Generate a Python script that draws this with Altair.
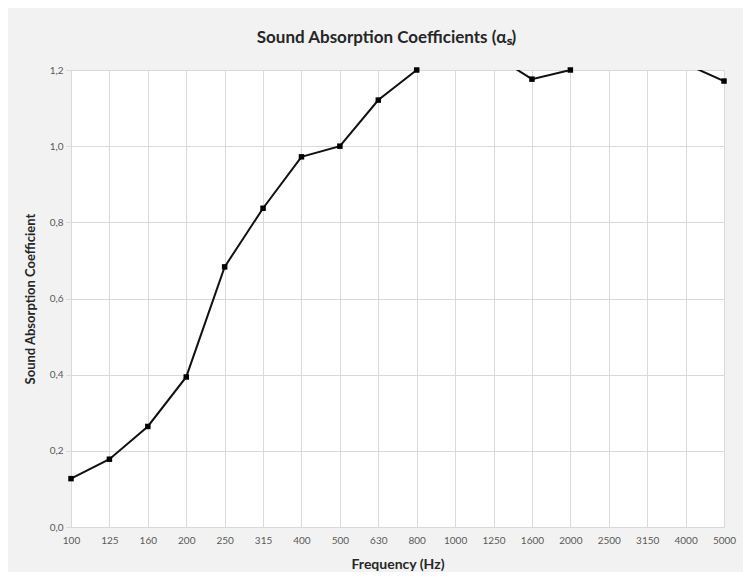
import altair as alt
import pandas as pd

freqs = ["100", "125", "160", "200", "250", "315", "400", "500", "630", "800",
         "1000", "1250", "1600", "2000", "2500", "3150", "4000", "5000"]
alpha = [0.127, 0.178, 0.264, 0.394, 0.683, 0.837, 0.972, 1.0, 1.121, 1.2,
         1.28, 1.24, 1.176, 1.2, 1.26, 1.27, 1.216, 1.171]
y_ticks = [0.0, 0.2, 0.4, 0.6, 0.8, 1.0, 1.2]

df = pd.DataFrame({"freq": freqs, "alpha": alpha})

FONT = "Lato"
GRID = "#d9d9d9"

x = alt.X(
    "freq:O",
    sort=freqs,
    scale=alt.Scale(type="point", padding=0),
    axis=alt.Axis(
        title="Frequency (Hz)",
        labelAngle=0,
        grid=True,
        gridColor=GRID,
        ticks=False,
        domainColor=GRID,
        labelPadding=8,
        titlePadding=12,
        labelFontSize=10,
        labelColor="#595959",
        titleFontSize=14,
        titleFontWeight="bold",
        titleColor="#262626",
        labelFont=FONT,
        titleFont=FONT,
    ),
)
y = alt.Y(
    "alpha:Q",
    scale=alt.Scale(domain=[0, 1.2], nice=False, zero=True),
    axis=alt.Axis(
        title="Sound Absorption Coefficient",
        values=y_ticks,
        labelExpr="replace(format(datum.value, '.1f'), '.', ',')",
        grid=True,
        gridColor=GRID,
        tickColor=GRID,
        tickSize=5,
        domainColor=GRID,
        labelPadding=3,
        titlePadding=12,
        labelFontSize=10,
        labelColor="#595959",
        titleFontSize=13,
        titleFontWeight="bold",
        titleColor="#262626",
        labelFont=FONT,
        titleFont=FONT,
    ),
)

line = alt.Chart(df).mark_line(clip=True, color="#111111", strokeWidth=2).encode(x=x, y=y)
points = (
    alt.Chart(df)
    .transform_filter("datum.alpha <= 1.2001")
    .mark_square(size=30, color="#000000", opacity=1)
    .encode(x=x, y=y)
)

chart = (
    alt.layer(line, points)
    .properties(
        width=653,
        height=457,
        autosize=alt.AutoSizeParams(type="none"),
        padding={"left": 63, "top": 62, "right": 19, "bottom": 45},
        background="#f2f2f2",
        title=alt.Title(
            "Sound Absorption Coefficients (αₛ)",
            font=FONT,
            fontSize=17,
            fontWeight="bold",
            color="#262626",
            offset=18,
            anchor="middle",
            dx=-11,
        ),
    )
    .configure_view(fill="white", stroke=None)
)

chart.save("out.html", embed_options={"renderer": "svg", "actions": False})
